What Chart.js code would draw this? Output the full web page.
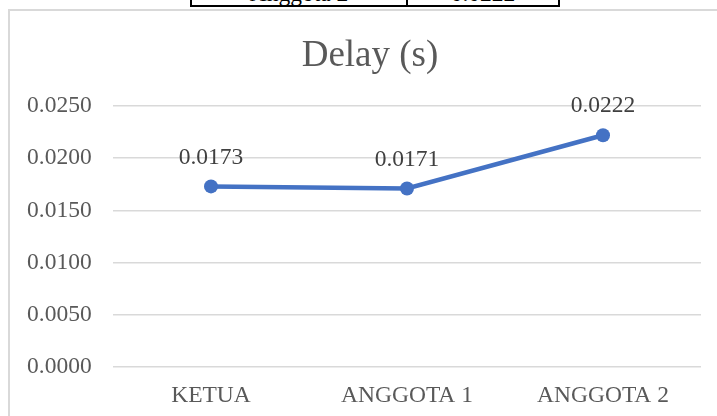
<!DOCTYPE html>
<html>
<head>
<meta charset="utf-8">
<script src="https://cdn.jsdelivr.net/npm/chart.js@4/dist/chart.umd.min.js"></script>
<style>
  html, body { margin: 0; padding: 0; background: #fff; overflow: hidden; }
  #page { position: relative; width: 717px; height: 416px; overflow: hidden; }
  #tbl { position: absolute; left: 190px; top: -30px; height: 35px; width: 366px;
         border: 2px solid #000; border-top: none; display: flex;
         font-family: "Liberation Serif", "Times New Roman", serif; font-size: 23.5px; color: #000; }
  #tbl div { height: 100%; line-height: 1; display: flex; align-items: flex-end; justify-content: center; padding-bottom: 0; box-sizing: border-box; }
  #tbl .c1 { width: 216px; border-right: 2px solid #000; }
  #tbl .c2 { flex: 1; }
  #box { position: absolute; left: 8px; top: 9px; width: 730px; height: 430px; border: 2px solid #d9d9d9; box-sizing: border-box; }
  #chart { position: absolute; left: 0; top: 0; }
</style>
</head>
<body>
<div id="page">
  <div id="tbl"><div class="c1">Anggota 2</div><div class="c2">0.0222</div></div>
  <div id="box"></div>
  <canvas id="chart" width="717" height="416"></canvas>
</div>
<script>
const chartTitle = 'Delay (s)';
const categories = ['KETUA', 'ANGGOTA 1', 'ANGGOTA 2'];
const delayValues = [0.0173, 0.0171, 0.0222];
const yTickLabels = ['0.0000', '0.0050', '0.0100', '0.0150', '0.0200', '0.0250'];

const serif = '"Liberation Serif", "Times New Roman", serif';

// draws the value above each point (no datalabels plugin offline)
const valueLabels = {
    id: 'valueLabels',
    afterDatasetsDraw(chart) {
        const ctx = chart.ctx;
        const meta = chart.getDatasetMeta(0);
        ctx.save();
        ctx.font = '23.5px ' + serif;
        ctx.fillStyle = '#404040';
        ctx.textAlign = 'center';
        ctx.textBaseline = 'middle';
        meta.data.forEach((pt, i) => {
            ctx.fillText(delayValues[i].toFixed(4), pt.x, pt.y - 29);
        });
        ctx.restore();
    }
};

const ctx = document.getElementById('chart').getContext('2d');
const chart = new Chart(ctx, {
    type: 'line',
    data: {
        labels: categories,
        datasets: [{
            label: chartTitle,
            data: delayValues,
            borderColor: '#4472C4',
            backgroundColor: '#4472C4',
            borderWidth: 4.5,
            pointRadius: 7,
            pointHoverRadius: 7,
            pointBorderWidth: 0,
            fill: false,
            tension: 0
        }]
    },
    options: {
        responsive: false,
        animation: false,
        layout: { padding: { left: 39, right: 16, top: 0, bottom: 0 } },
        plugins: {
            legend: { display: false },
            tooltip: { enabled: false },
            title: {
                display: true,
                text: chartTitle,
                color: '#595959',
                font: { family: serif, size: 37, weight: 'normal', lineHeight: 1.2 },
                padding: { top: 34, bottom: 27.6 }
            }
        },
        scales: {
            x: {
                offset: true,
                grid: { display: false, drawTicks: false },
                border: { display: false },
                ticks: { color: '#595959', font: { family: serif, size: 23.5 }, padding: 15 },
                afterFit(scale) { scale.height = 49; }
            },
            y: {
                min: 0,
                max: 0.025,
                grid: { color: '#d9d9d9', lineWidth: 1.5, drawTicks: false },
                border: { display: false },
                ticks: {
                    stepSize: 0.005,
                    color: '#595959',
                    font: { family: serif, size: 23.5 },
                    // mirrored labels are not clipped to the narrow axis box
                    mirror: true,
                    padding: -86,
                    callback: (v, i) => yTickLabels[i]
                },
                afterFit(scale) { scale.width = 74; }
            }
        }
    },
    plugins: [valueLabels]
});
</script>
</body>
</html>
